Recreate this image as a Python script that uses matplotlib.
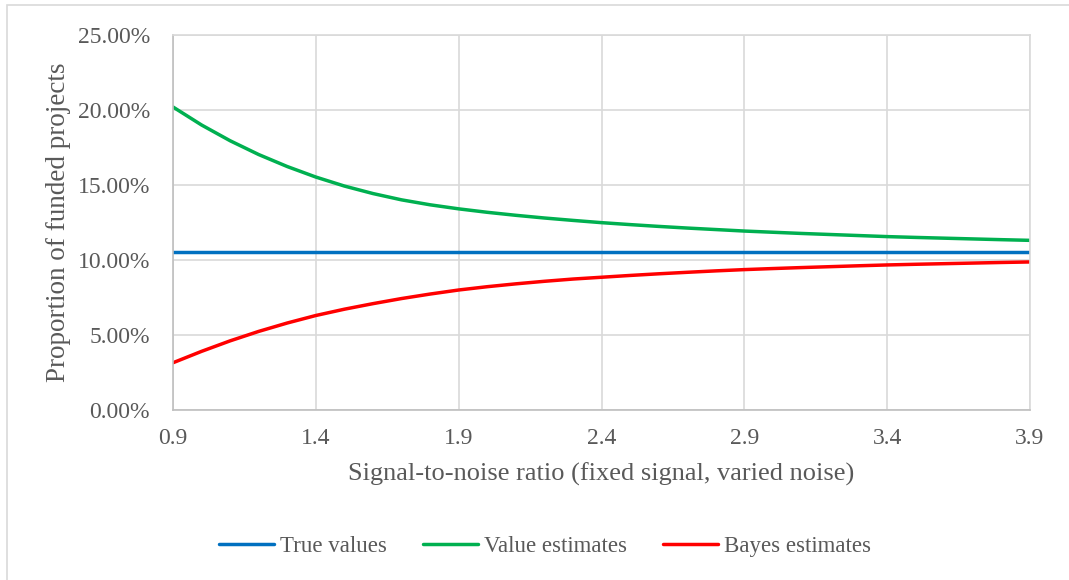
"""Proportion of funded projects vs signal-to-noise ratio (Excel-style line chart)."""
import numpy as np
import matplotlib
matplotlib.use("Agg")
import matplotlib.pyplot as plt
from matplotlib.patches import Rectangle
from matplotlib.ticker import FuncFormatter, MultipleLocator

# values, in percent
snr = [0.9, 1.0, 1.1, 1.2, 1.3, 1.4, 1.5, 1.6, 1.7, 1.8, 1.9,
       2.0, 2.1, 2.2, 2.3, 2.4, 2.5, 2.6, 2.7, 2.8, 2.9,
       3.0, 3.1, 3.2, 3.3, 3.4, 3.5, 3.6, 3.7, 3.8, 3.9]
true_values = [10.55] * len(snr)
value_estimates = [20.2, 19.0, 17.95, 17.03, 16.23, 15.53, 14.93, 14.43, 14.01, 13.68, 13.41,
                   13.18, 12.98, 12.8, 12.64, 12.49, 12.36, 12.24, 12.13, 12.03, 11.93,
                   11.85, 11.77, 11.7, 11.63, 11.56, 11.505, 11.455, 11.405, 11.355, 11.31]
bayes_estimates = [3.15, 3.91, 4.61, 5.24, 5.8, 6.3, 6.72, 7.09, 7.43, 7.73, 8.0,
                   8.22, 8.41, 8.58, 8.73, 8.85, 8.97, 9.08, 9.18, 9.275, 9.36,
                   9.43, 9.495, 9.555, 9.615, 9.67, 9.715, 9.755, 9.795, 9.835, 9.87]
x_ticks = [0.9, 1.4, 1.9, 2.4, 2.9, 3.4, 3.9]

TEXT = "#595959"
plt.rcParams["font.family"] = ["Liberation Serif", "DejaVu Serif"]

W, H = 1069, 580
fig = plt.figure(figsize=(W / 100, H / 100), dpi=100)
# plot area in pixels: left 173, right 1030, top 35, bottom 410
ax = fig.add_axes([173 / W, 1 - 410 / H, (1030 - 173) / W, (410 - 35) / H])

# chart area border
fig.patches.append(Rectangle((7 / W, -0.05), 1.2, 1 - 5 / H + 0.05, transform=fig.transFigure,
                             fill=False, edgecolor="#D9D9D9", linewidth=1.2))

ax.plot(snr, true_values, color="#0070C0", lw=2.5, label="True values", solid_capstyle="round")
ax.plot(snr, value_estimates, color="#00B050", lw=2.5, label="Value estimates", solid_capstyle="round")
ax.plot(snr, bayes_estimates, color="#FF0000", lw=2.5, label="Bayes estimates", solid_capstyle="round")

ax.set_xlim(0.9, 3.9)
ax.set_ylim(0, 25)
ax.set_xticks(x_ticks)
ax.set_xticklabels([f"{t:.1f}" for t in x_ticks])
ax.yaxis.set_major_locator(MultipleLocator(5))
ax.yaxis.set_major_formatter(FuncFormatter(lambda v, p: f"{v:.2f}%"))
ax.grid(True, color="#D9D9D9", lw=1.2)
ax.set_axisbelow(True)

for side in ["top", "right"]:
    ax.spines[side].set_color("#D9D9D9")
    ax.spines[side].set_linewidth(1.2)
for side in ["left", "bottom"]:
    ax.spines[side].set_color("#BFBFBF")
    ax.spines[side].set_linewidth(1.2)

ax.tick_params(length=0, labelsize=17, colors=TEXT)
ax.tick_params(axis="x", pad=13)
ax.tick_params(axis="y", pad=16.5)

ax.set_xlabel("Signal-to-noise ratio (fixed signal, varied noise)", fontsize=19, color=TEXT, labelpad=10)
ax.set_ylabel("Proportion of funded projects", fontsize=19.5, color=TEXT, labelpad=4.5)

fig.legend(loc="center", bbox_to_anchor=(545 / W, 1 - 546 / H), ncol=3, frameon=False,
           fontsize=16.5, labelcolor=TEXT, handlelength=2.4, handletextpad=0.25,
           columnspacing=1.6)

fig.savefig("out.png", dpi=100)
